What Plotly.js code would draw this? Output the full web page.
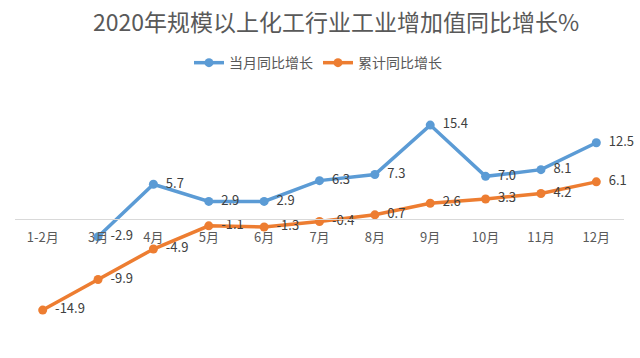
<!DOCTYPE html>
<html>
<head>
<meta charset="utf-8">
<script src="https://cdn.plot.ly/plotly-3.0.1.min.js"></script>
<style>html,body{margin:0;padding:0;background:#fff;}#chart{width:640px;height:358px;}</style>
</head>
<body>
<div id="chart"></div>
<script>
const months = ["1-2月","3月","4月","5月","6月","7月","8月","9月","10月","11月","12月"];
const monthlyGrowth = [null, -2.9, 5.7, 2.9, 2.9, 6.3, 7.3, 15.4, 7.0, 8.1, 12.5];
const cumulativeGrowth = [-14.9, -9.9, -4.9, -1.1, -1.3, -0.4, 0.7, 2.6, 3.3, 4.2, 6.1];

const FONT = "'Noto Sans CJK SC', 'Noto Sans', sans-serif";
const fmt = v => v === null ? "" : "  " + v.toFixed(1);

const traces = [
  {
    x: months, y: monthlyGrowth, name: "当月同比增长",
    type: "scatter", mode: "lines+markers+text",
    line: {color: "#5B9BD5", width: 3.5},
    marker: {color: "#5B9BD5", size: 9},
    text: monthlyGrowth.map(fmt),
    textposition: "middle right",
    textfont: {family: FONT, size: 13, color: "#404040"},
    connectgaps: false, cliponaxis: false
  },
  {
    x: months, y: cumulativeGrowth, name: "累计同比增长",
    type: "scatter", mode: "lines+markers+text",
    line: {color: "#ED7D31", width: 3.5},
    marker: {color: "#ED7D31", size: 9},
    text: cumulativeGrowth.map(fmt),
    textposition: "middle right",
    textfont: {family: FONT, size: 13, color: "#404040"},
    cliponaxis: false
  }
];

const layout = {
  width: 640, height: 358,
  margin: {l: 15, r: 16, t: 75, b: 18},
  paper_bgcolor: "#fff", plot_bgcolor: "#fff",
  font: {family: FONT, color: "#595959"},
  title: {
    text: "2020年规模以上化工行业工业增加值同比增长%",
    font: {family: FONT, size: 23, color: "#595959"},
    xref: "container", yref: "container",
    x: 0.525, xanchor: "center", y: 0.935, yanchor: "middle"
  },
  showlegend: true,
  legend: {
    orientation: "h", x: 0.4975, xanchor: "center", y: 1.045, yanchor: "middle",
    font: {family: FONT, size: 14, color: "#595959"},
    itemclick: false, itemdoubleclick: false
  },
  xaxis: {
    type: "category", range: [-0.5, 10.5],
    anchor: "free", position: 0.4566,
    showline: true, linecolor: "#D9D9D9", linewidth: 1,
    showgrid: false, zeroline: false, ticks: "",
    ticklabelstandoff: 6,
    tickfont: {family: FONT, size: 13, color: "#595959"},
    fixedrange: true
  },
  yaxis: {
    range: [-19.8, 23.6], visible: false, showgrid: false, zeroline: false,
    fixedrange: true
  }
};

Plotly.newPlot("chart", traces, layout, {displayModeBar: false, staticPlot: true});
</script>
</body>
</html>
